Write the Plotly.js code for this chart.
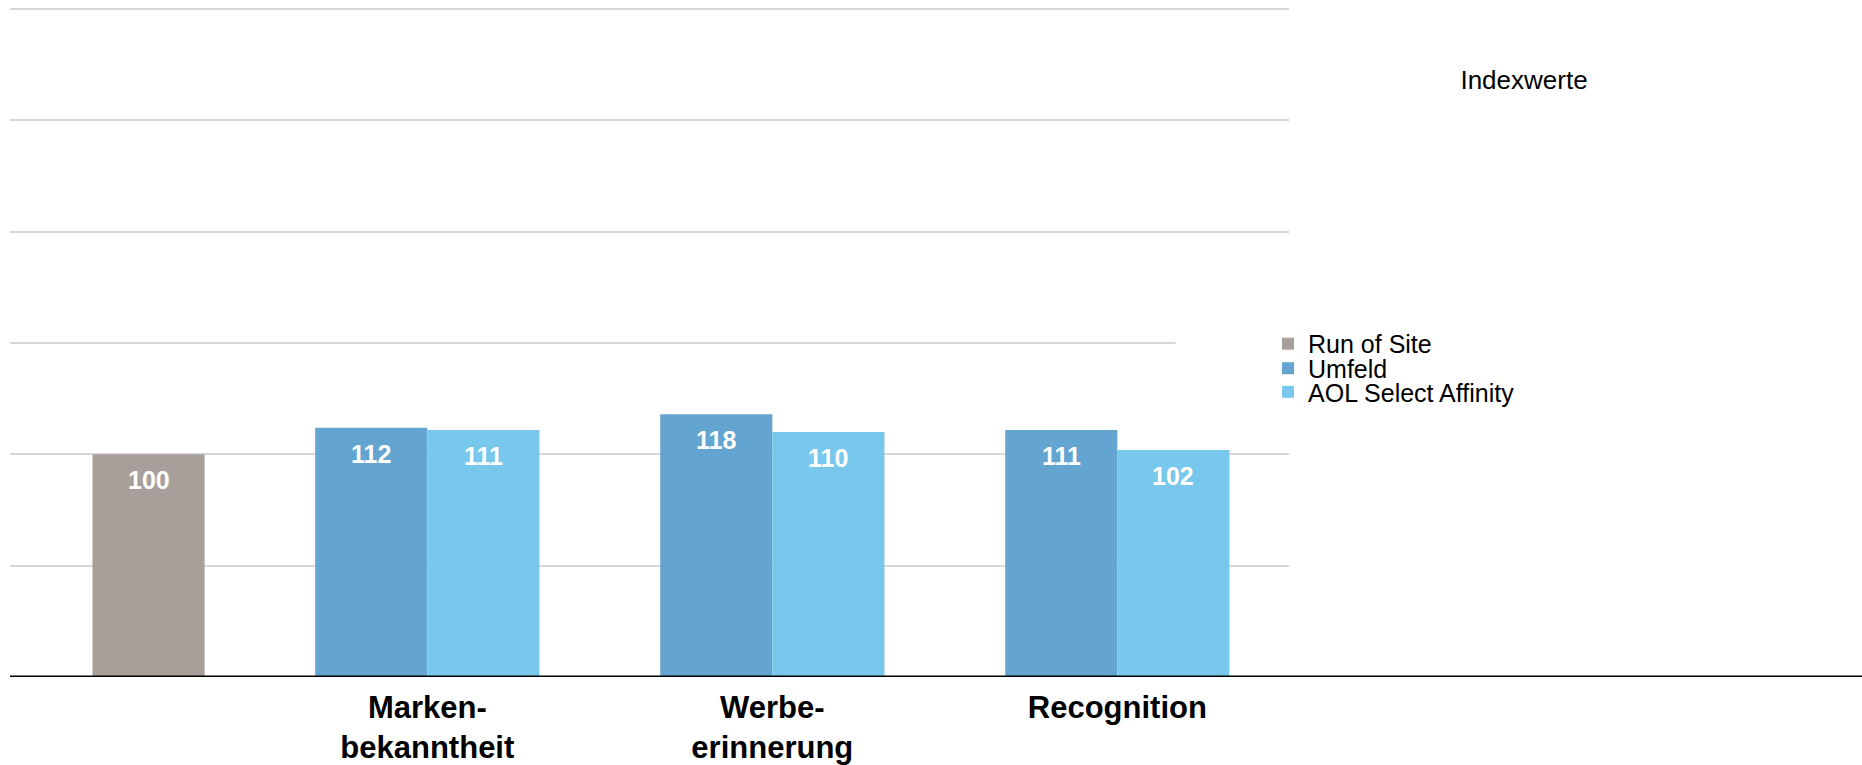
<!DOCTYPE html>
<html>
<head>
<meta charset="utf-8">
<script src="https://cdn.plot.ly/plotly-3.0.1.min.js"></script>
<style>
  html, body { margin: 0; padding: 0; background: #ffffff; }
  #chart { width: 1862px; height: 765px; }
</style>
</head>
<body>
<div id="chart"></div>
<script>
// ---- data ----
const categories = ['Run of Site', 'Markenbekanntheit', 'Werbeerinnerung', 'Recognition'];
const tickLabels = ['', 'Marken-<br>bekanntheit', 'Werbe-<br>erinnerung', 'Recognition'];
const seriesNames = ['Run of Site', 'Umfeld', 'AOL Select Affinity'];

const runOfSiteCategories = ['Run of Site'];
const runOfSiteValues = [100];

const studyCategories = ['Markenbekanntheit', 'Werbeerinnerung', 'Recognition'];
const umfeldValues = [112, 118, 111];
const aolSelectValues = [111, 110, 102];

const gridValues = [0, 50, 100, 150, 200, 250, 300];

// ---- styling ----
const FONT = 'Liberation Sans, Arial, Helvetica, sans-serif';
const COLORS = ['#a89f9a', '#63a4d1', '#78c7ec'];
const BAR_W = 0.325;          // bar width in category units
const RUN_SHIFT = 0.192;      // the single reference bar sits right of its slot centre
const offsets = [RUN_SHIFT - BAR_W / 2, -BAR_W, 0];

const seriesCats = [runOfSiteCategories, studyCategories, studyCategories];
const seriesVals = [runOfSiteValues, umfeldValues, aolSelectValues];
const legendIds = ['legend', 'legend2', 'legend3'];

const traces = seriesNames.map((name, i) => ({
  type: 'bar',
  name: name,
  x: seriesCats[i],
  y: seriesVals[i],
  width: BAR_W,
  offset: offsets[i],
  marker: { color: COLORS[i], line: { width: 0 } },
  legend: legendIds[i],
  hoverinfo: 'skip'
}));

// value labels inside the bar tops
const annotations = [];
seriesNames.forEach((name, i) => {
  seriesCats[i].forEach((cat, j) => {
    annotations.push({
      xref: 'x', yref: 'y',
      x: categories.indexOf(cat) + offsets[i] + BAR_W / 2,
      y: seriesVals[i][j],
      text: String(seriesVals[i][j]),
      showarrow: false,
      xanchor: 'center', yanchor: 'middle',
      yshift: -26,
      font: { family: FONT, size: 25, color: '#ffffff', weight: 'bold' }
    });
  });
});

const legendBase = (y) => ({
  x: 0.9836, y: y,
  xanchor: 'left', yanchor: 'middle',
  bgcolor: 'rgba(0,0,0,0)', borderwidth: 0,
  font: { family: FONT, size: 25, color: '#000000' }
});

const layout = {
  width: 1862,
  height: 765,
  margin: { l: 10, r: 573, t: 8, b: 88, pad: 0 },
  paper_bgcolor: '#ffffff',
  plot_bgcolor: '#ffffff',
  barmode: 'overlay',
  title: {
    text: 'Indexwerte',
    xref: 'container', yref: 'container',
    x: 1524 / 1862, xanchor: 'center',
    y: 1 - 80 / 765, yanchor: 'middle',
    font: { family: FONT, size: 26, color: '#000000' }
  },
  xaxis: {
    type: 'category',
    categoryorder: 'array',
    categoryarray: categories,
    range: [-0.2096, 3.4976],
    tickmode: 'array',
    tickvals: categories,
    ticktext: tickLabels,
    tickfont: { family: FONT, size: 31, color: '#000000', weight: 'bold' },
    ticklabelstandoff: 9,
    ticks: '',
    showgrid: false, showline: false, zeroline: false,
    fixedrange: true
  },
  yaxis: {
    range: [0, 300.5],
    tickmode: 'array',
    tickvals: gridValues,
    showticklabels: false,
    showgrid: true,
    gridcolor: '#d9d5d2',
    gridwidth: 2,
    zeroline: false, showline: false,
    fixedrange: true
  },
  shapes: [
    // gap in the 150 gridline beside the legend
    { type: 'rect', xref: 'paper', yref: 'y', x0: 0.9113, x1: 1.01, y0: 147, y1: 153,
      fillcolor: '#ffffff', line: { width: 0 }, layer: 'above' },
    // heavy baseline running across the full width
    { type: 'line', xref: 'paper', yref: 'y', x0: 0, x1: 1.45, y0: 0, y1: 0,
      line: { color: '#000000', width: 3 }, layer: 'above' }
  ],
  annotations: annotations,
  showlegend: true,
  legend: legendBase(0.4979),
  legend2: legendBase(0.4613),
  legend3: legendBase(0.4259)
};

Plotly.newPlot('chart', traces, layout, { displayModeBar: false, staticPlot: true });
</script>
</body>
</html>
